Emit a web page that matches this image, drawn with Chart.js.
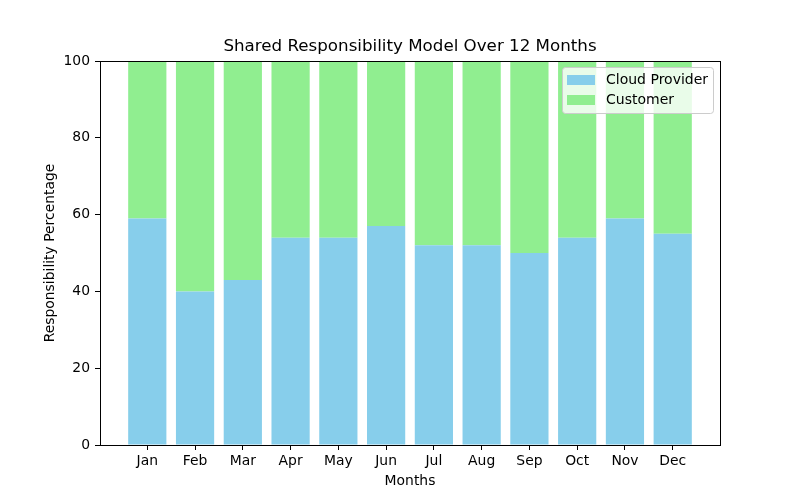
<!DOCTYPE html>
<html>
<head>
<meta charset="utf-8">
<script src="https://cdn.jsdelivr.net/npm/chart.js@4.4.0/dist/chart.umd.min.js"></script>
<style>
html,body{margin:0;padding:0;background:#fff;}
#wrap{width:800px;height:500px;}
</style>
</head>
<body>
<div id="wrap"><canvas id="c" width="800" height="500"></canvas></div>
<script>
const months = ["Jan","Feb","Mar","Apr","May","Jun","Jul","Aug","Sep","Oct","Nov","Dec"];
const cloudProvider = [59, 40, 43, 54, 54, 57, 52, 52, 50, 54, 59, 55];
const customer = [41, 60, 57, 46, 46, 43, 48, 48, 50, 46, 41, 45];
const yTicks = [0, 20, 40, 60, 80, 100];
const chartTitle = 'Shared Responsibility Model Over 12 Months';

const FONT = "'DejaVu Sans', sans-serif";
Chart.defaults.font.family = FONT;
Chart.defaults.color = '#000';

const framePlugin = {
  id: 'frame',
  afterDraw(chart) {
    const {ctx, chartArea: a} = chart;
    ctx.save();
    ctx.strokeStyle = '#000';
    ctx.lineWidth = 1;
    ctx.strokeRect(Math.round(a.left) + 0.5, Math.round(a.top) + 0.5, Math.round(a.right - a.left), Math.round(a.bottom - a.top));
    // title centred over the plot area
    ctx.fillStyle = '#000';
    ctx.font = '16.7px ' + FONT;
    ctx.textAlign = 'center';
    ctx.textBaseline = 'middle';
    ctx.fillText(chartTitle, (a.left + a.right) / 2, a.top - 14);
    // legend
    ctx.textAlign = 'left';
    const ds = chart.data.datasets;
    const bx = a.right - 158, by = a.top + 6, bw = 151, bh = 46;
    ctx.beginPath();
    if (ctx.roundRect) ctx.roundRect(bx + 0.5, by + 0.5, bw, bh, 3); else ctx.rect(bx + 0.5, by + 0.5, bw, bh);
    ctx.fillStyle = 'rgba(255,255,255,0.8)';
    ctx.fill();
    ctx.strokeStyle = '#cccccc';
    ctx.stroke();
    ctx.font = '14px ' + FONT;
    ctx.textBaseline = 'middle';
    ds.forEach((d, i) => {
      const cy = by + 13 + i * 20;
      ctx.fillStyle = d.backgroundColor;
      ctx.fillRect(bx + 5, cy - 5, 28, 10);
      ctx.fillStyle = '#000';
      ctx.fillText(d.label, bx + 44, cy);
    });
    ctx.restore();
  }
};

new Chart(document.getElementById('c'), {
  type: 'bar',
  data: {
    datasets: [
      { label: 'Cloud Provider', data: cloudProvider.map((v, i) => ({x: i, y: v})), backgroundColor: '#87CEEB', borderWidth: 0, barPercentage: 0.8, categoryPercentage: 1.0 },
      { label: 'Customer', data: customer.map((v, i) => ({x: i, y: v})), backgroundColor: '#90EE90', borderWidth: 0, barPercentage: 0.8, categoryPercentage: 1.0 }
    ]
  },
  options: {
    responsive: false,
    animation: false,
    devicePixelRatio: 1,
    layout: { padding: { left: 0, right: 80, top: 61, bottom: 0 } },
    plugins: {
      legend: { display: false },
      tooltip: { enabled: false },
      title: { display: false }
    },
    scales: {
      x: {
        type: 'linear',
        stacked: true,
        min: -0.99,
        max: 11.99,
        offset: false,
        grid: { display: true, offset: false, drawOnChartArea: false, drawTicks: true, tickLength: 5, color: '#000' },
        border: { display: true, color: '#000' },
        afterBuildTicks(scale) { scale.ticks = months.map((_, i) => ({ value: i })); },
        afterFit(scale) { scale.height = 55; },
        ticks: {
          autoSkip: false,
          maxRotation: 0,
          padding: 3,
          font: { size: 13.9, family: FONT },
          color: '#000',
          callback: (v) => months[v] !== undefined ? months[v] : ''
        },
        title: { display: true, text: 'Months', font: { size: 13.9, family: FONT }, color: '#000', padding: { top: 0, bottom: 10 } }
      },
      y: {
        stacked: true,
        min: 0,
        max: 100,
        grid: { display: true, drawOnChartArea: false, drawTicks: true, tickLength: 5, color: '#000' },
        border: { display: true, color: '#000' },
        afterBuildTicks(scale) { scale.ticks = yTicks.map(v => ({ value: v })); },
        afterFit(scale) { scale.width = 100; },
        ticks: { padding: 5, font: { size: 13.9, family: FONT }, color: '#000' },
        title: { display: true, text: 'Responsibility Percentage', font: { size: 13.9, family: FONT }, color: '#000', padding: { top: 42, bottom: 0 } }
      }
    }
  },
  plugins: [framePlugin]
});
</script>
</body>
</html>
